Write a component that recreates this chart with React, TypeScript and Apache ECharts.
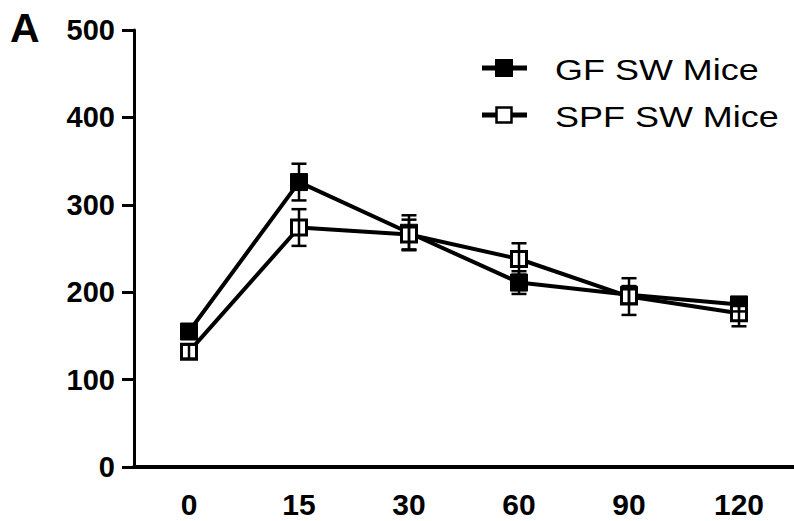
import React, { useEffect, useRef } from "react";
import * as echarts from "echarts";

const categories = ["0", "15", "30", "60", "90", "120"];
const gfMean = [155, 326, 268, 211, 197, 186];
const gfErr = [8, 21, 20, 13, 10, 8];
const spfMean = [132, 274, 266, 238, 195, 176];
const spfErr = [8, 21, 17, 18, 21, 15];
const yTicks = [0, 100, 200, 300, 400, 500];
const seriesNames = ["GF SW Mice", "SPF SW Mice"];

const FONT = "'Liberation Sans', Arial, sans-serif";

function errData(mean: number[], err: number[]) {
  return mean.map((m, i) => [i, m - err[i], m + err[i]]);
}

function errorSeries(name: string, mean: number[], err: number[]) {
  return {
    type: "custom",
    name: name + " err",
    data: errData(mean, err),
    encode: { x: 0, y: [1, 2] },
    z: 5,
    silent: true,
    renderItem: (params: any, api: any) => {
      const x = api.value(0);
      const lo = api.coord([x, api.value(1)]);
      const hi = api.coord([x, api.value(2)]);
      const hw = 7.5;
      const style = { stroke: "#000", lineWidth: 2.5 };
      return {
        type: "group",
        children: [
          { type: "line", shape: { x1: lo[0], y1: lo[1], x2: hi[0], y2: hi[1] }, style },
          { type: "line", shape: { x1: lo[0] - hw, y1: lo[1], x2: lo[0] + hw, y2: lo[1] }, style },
          { type: "line", shape: { x1: hi[0] - hw, y1: hi[1], x2: hi[0] + hw, y2: hi[1] }, style },
        ],
      };
    },
  };
}

function legendItem(name: string, y: number, filled: boolean) {
  return {
    type: "group",
    children: [
      { type: "line", shape: { x1: 482, y1: y, x2: 527, y2: y }, style: { stroke: "#000", lineWidth: 5 } },
      {
        type: "rect",
        shape: filled ? { x: 495, y: y - 9, width: 18, height: 18 } : { x: 496.5, y: y - 7.5, width: 15, height: 15 },
        style: filled ? { fill: "#000" } : { fill: "#fff", stroke: "#000", lineWidth: 2.5 },
      },
      {
        type: "text",
        x: 555,
        y: y + 1.5,
        scaleX: 1.24,
        style: {
          text: name,
          font: "29px " + FONT,
          fill: "#000",
          textVerticalAlign: "middle",
          verticalAlign: "middle",
        },
      },
    ],
  };
}

export default function App() {
  const ref = useRef<HTMLDivElement>(null);
  useEffect(() => {
    document.body.style.margin = "0";
    const chart = echarts.init(ref.current!, undefined, { renderer: "svg" });
    chart.setOption({
      animation: false,
      backgroundColor: "#fff",
      grid: { left: 134, right: 0, top: 30, bottom: 54, containLabel: false },
      graphic: [
        {
          type: "text",
          left: 10,
          top: 7,
          style: { text: "A", font: "bold 41px " + FONT, fill: "#000" },
        },
        legendItem(seriesNames[0], 68, true),
        legendItem(seriesNames[1], 115, false),
      ],
      xAxis: {
        type: "category",
        data: categories,
        boundaryGap: true,
        axisLine: { lineStyle: { color: "#000", width: 4 } },
        axisTick: { alignWithLabel: true, length: 11, lineStyle: { color: "#000", width: 3 } },
        axisLabel: { color: "#000", fontFamily: FONT, fontWeight: "bold", fontSize: 30, margin: 22 },
      },
      yAxis: {
        type: "value",
        min: 0,
        max: 500,
        interval: 100,
        splitLine: { show: false },
        axisLine: { show: true, lineStyle: { color: "#000", width: 3 } },
        axisTick: { show: true, length: 12, lineStyle: { color: "#000", width: 3 } },
        axisLabel: {
          color: "#000",
          fontFamily: FONT,
          fontWeight: "bold",
          fontSize: 29,
          margin: 19,
          formatter: (v: number) => (yTicks.includes(v) ? String(v) : ""),
        },
      },
      series: [
        {
          type: "line",
          name: seriesNames[0],
          data: gfMean,
          symbol: "rect",
          symbolSize: 17,
          z: 2,
          lineStyle: { color: "#000", width: 4 },
          itemStyle: { color: "#000", borderColor: "#000", borderWidth: 1 },
        },
        {
          type: "line",
          name: seriesNames[1],
          data: spfMean,
          symbol: "rect",
          symbolSize: 15,
          z: 3,
          lineStyle: { color: "#000", width: 4 },
          itemStyle: { color: "#fff", borderColor: "#000", borderWidth: 3 },
        },
        errorSeries("GF", gfMean, gfErr),
        errorSeries("SPF", spfMean, spfErr),
      ],
    });
    return () => chart.dispose();
  }, []);
  return <div ref={ref} style={{ width: 794, height: 521 }} />;
}
